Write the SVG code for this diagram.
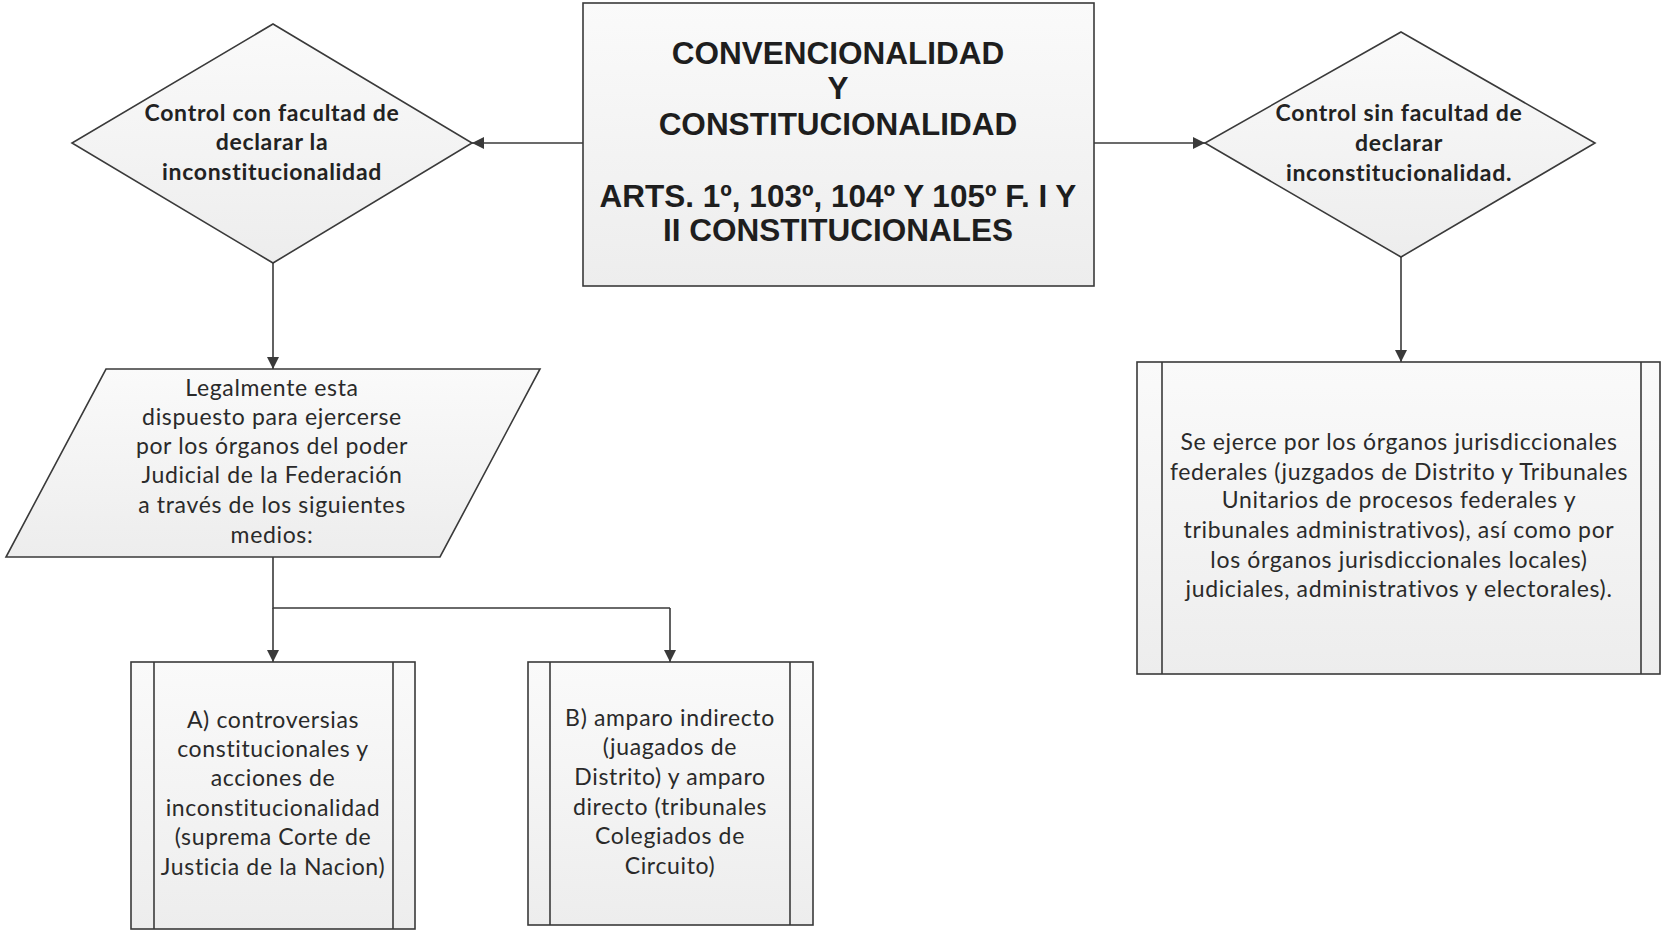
<svg xmlns="http://www.w3.org/2000/svg" width="1662" height="931" viewBox="0 0 1662 931">
  <style>
    .shape { stroke: #3a3a3a; stroke-width: 1.6; }
    .fill { fill: url(#boxFill); }
    .edge { fill: none; stroke: #3a3a3a; stroke-width: 1.6; }
    .title { font-family: "Liberation Sans", Arial, sans-serif; font-weight: bold; font-size: 31.5px; fill: #1e1e1e; text-anchor: middle; }
    .dec { font-family: Lato, "Open Sans", sans-serif; font-weight: bold; font-size: 23px; letter-spacing: 0.7px; fill: #222; text-anchor: middle; }
    .body { font-family: Lato, "Open Sans", sans-serif; font-size: 23px; letter-spacing: 0.65px; fill: #2a2a2a; text-anchor: middle; }
  </style>
  <defs>
    <linearGradient id="boxFill" x1="0" y1="0" x2="0" y2="1">
      <stop offset="0" stop-color="#fafafa"/>
      <stop offset="1" stop-color="#ededed"/>
    </linearGradient>
    <marker id="arrow" viewBox="0 0 12 12" refX="12" refY="6" markerWidth="12" markerHeight="12" markerUnits="userSpaceOnUse" orient="auto">
      <path d="M0,0 L12,6 L0,12 Z" fill="#3a3a3a"/>
    </marker>
  </defs>
  <rect width="1662" height="931" fill="#ffffff"/>

  <!-- connectors -->
  <g id="connectors">
    <line class="edge" x1="583" y1="143" x2="472" y2="143" marker-end="url(#arrow)"/>
    <line class="edge" x1="1094" y1="143" x2="1205" y2="143" marker-end="url(#arrow)"/>
    <line class="edge" x1="273" y1="263" x2="273" y2="369" marker-end="url(#arrow)"/>
    <polyline class="edge" points="273,557 273,608 670,608"/>
    <line class="edge" x1="273" y1="608" x2="273" y2="662" marker-end="url(#arrow)"/>
    <line class="edge" x1="670" y1="608" x2="670" y2="662" marker-end="url(#arrow)"/>
    <line class="edge" x1="1401" y1="257" x2="1401" y2="362" marker-end="url(#arrow)"/>
  </g>

  <!-- central heading -->
  <g id="node-central">
    <rect class="shape fill" x="583" y="3" width="511" height="283"/>
    <text class="title" x="838" y="64">CONVENCIONALIDAD</text>
    <text class="title" x="838" y="99">Y</text>
    <text class="title" x="838" y="135">CONSTITUCIONALIDAD</text>
    <text class="title" x="838" y="207">ARTS. 1º, 103º, 104º Y 105º F. I Y</text>
    <text class="title" x="838" y="241">II CONSTITUCIONALES</text>
  </g>

  <!-- decision: with power -->
  <g id="node-con-facultad">
    <polygon class="shape fill" points="273,24 472,143 273,263 72,143"/>
    <text class="dec" x="272" y="121">Control con facultad de</text>
    <text class="dec" x="272" y="150">declarar la</text>
    <text class="dec" x="272" y="180">inconstitucionalidad</text>
  </g>

  <!-- decision: without power -->
  <g id="node-sin-facultad">
    <polygon class="shape fill" points="1401,32 1595,143 1401,257 1205,143"/>
    <text class="dec" x="1399" y="121">Control sin facultad de</text>
    <text class="dec" x="1399" y="151">declarar</text>
    <text class="dec" x="1399" y="181">inconstitucionalidad.</text>
  </g>

  <!-- input: legal provision -->
  <g id="node-legalmente">
    <polygon class="shape fill" points="106,369 540,369 440,557 6,557"/>
    <text class="body" x="272" y="396">Legalmente esta</text>
    <text class="body" x="272" y="425">dispuesto para ejercerse</text>
    <text class="body" x="272" y="454">por los órganos del poder</text>
    <text class="body" x="272" y="483">Judicial de la Federación</text>
    <text class="body" x="272" y="513">a través de los siguientes</text>
    <text class="body" x="272" y="543">medios:</text>
  </g>

  <!-- predefined process A -->
  <g id="node-a">
    <rect class="shape fill" x="131" y="662" width="284" height="267"/>
    <line class="shape" x1="154" y1="662" x2="154" y2="929"/>
    <line class="shape" x1="393" y1="662" x2="393" y2="929"/>
    <text class="body" x="273" y="728">A) controversias</text>
    <text class="body" x="273" y="757">constitucionales y</text>
    <text class="body" x="273" y="786">acciones de</text>
    <text class="body" x="273" y="816">inconstitucionalidad</text>
    <text class="body" x="273" y="845">(suprema Corte de</text>
    <text class="body" x="273" y="875">Justicia de la Nacion)</text>
  </g>

  <!-- predefined process B -->
  <g id="node-b">
    <rect class="shape fill" x="528" y="662" width="285" height="263"/>
    <line class="shape" x1="550" y1="662" x2="550" y2="925"/>
    <line class="shape" x1="790" y1="662" x2="790" y2="925"/>
    <text class="body" x="670" y="726">B) amparo indirecto</text>
    <text class="body" x="670" y="755">(juagados de</text>
    <text class="body" x="670" y="785">Distrito) y amparo</text>
    <text class="body" x="670" y="815">directo (tribunales</text>
    <text class="body" x="670" y="844">Colegiados de</text>
    <text class="body" x="670" y="874">Circuito)</text>
  </g>

  <!-- predefined process: jurisdictional bodies -->
  <g id="node-organos">
    <rect class="shape fill" x="1137" y="362" width="523" height="312"/>
    <line class="shape" x1="1162" y1="362" x2="1162" y2="674"/>
    <line class="shape" x1="1641" y1="362" x2="1641" y2="674"/>
    <text class="body" x="1399" y="450">Se ejerce por los órganos jurisdiccionales</text>
    <text class="body" x="1399" y="480">federales (juzgados de Distrito y Tribunales</text>
    <text class="body" x="1399" y="508">Unitarios de procesos federales y</text>
    <text class="body" x="1399" y="538">tribunales administrativos), así como por</text>
    <text class="body" x="1399" y="568">los órganos jurisdiccionales locales)</text>
    <text class="body" x="1399" y="597">judiciales, administrativos y electorales).</text>
  </g>
</svg>
